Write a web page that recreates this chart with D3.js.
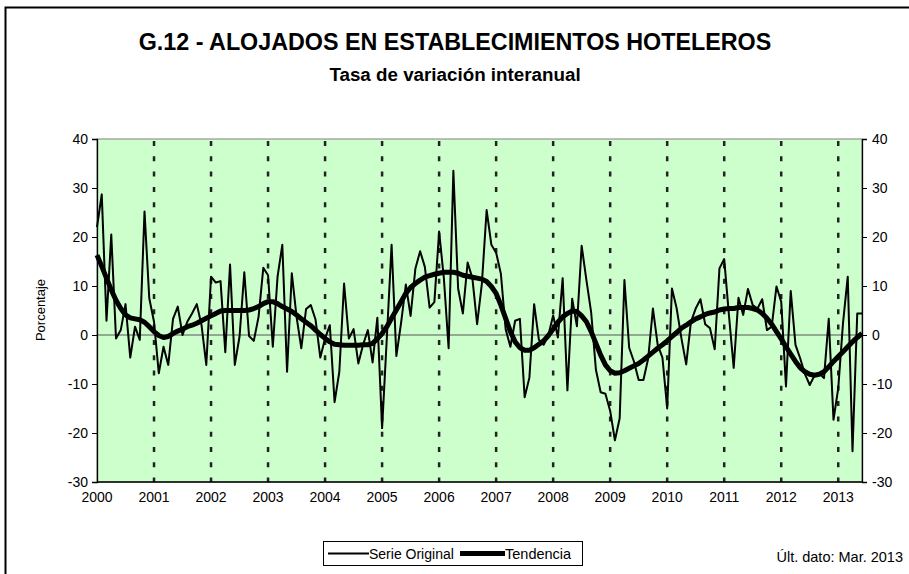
<!DOCTYPE html>
<html>
<head>
<meta charset="utf-8">
<script src="https://cdn.jsdelivr.net/npm/d3@7"></script>
<style>
  body { margin: 0; background: #fff; }
  svg { display: block; font-family: "Liberation Sans", Arial, sans-serif; }
</style>
</head>
<body>
<svg id="svg" width="909" height="574"></svg>
<script>
// meses desde ene-2000
const years = ["2000", "2001", "2002", "2003", "2004", "2005", "2006", "2007",
    "2008", "2009", "2010", "2011", "2012", "2013"]

const serieOriginal = [
    22, 28.7, 2.9, 20.5, -0.7, 1, 6.3, -4.6, 1.7, -1, 25.2, 7.5,
    2.7, -7.8, -2.4, -6.1, 3.3, 5.8, 0, 2.7, 4.4, 6.3, 2, -6.1,
    11.9, 10.7, 11, -3.5, 14.4, -6.1, -0.3, 12.8, -0.2, -1.2, 3.7, 13.7,
    12.2, -2.4, 11.9, 18.4, -7.5, 12.6, 3.7, -2.7, 5.3, 6.1, 3.1, -4.6,
    -0.7, 2, -13.7, -7.5, 10.5, -0.7, 1.2, -5.8, -2, 1, -5.6, 3.5,
    -19, -0.5, 18.4, -4.3, 2.5, 10.3, 3.9, 13.5, 17.1, 13.9, 5.6, 6.7,
    21.1, 11.6, -2.7, 33.5, 9.5, 4.4, 14.8, 11.6, 2.2, 10.5, 25.5, 18.4,
    16.8, 12.5, 1.2, -2.4, 2.9, 3.3, -12.7, -8.7, 6.3, -1, -2, 0,
    4, -0.5, 11.6, -11.3, 7.4, 1.8, 18.2, 11.2, 4.6, -7.1, -11.7, -12,
    -15.5, -21.5, -17, 11.2, -2.6, -5.4, -9.2, -9.2, -4.8, 5.4, -2, -4.6,
    -15, 9.5, 5.4, -0.7, -6, 2.7, 5.4, 7.3, 2.2, 1.4, -2.9, 13.6,
    15.5, 4, -6.7, 7.6, 4.1, 9.4, 6.1, 5.4, 7.3, 1, 1.7, 9.9,
    6.8, -10.5, 9, -2, -4.8, -8, -10.2, -8.3, -7.8, -8.8, 3.3, -17.3,
    -10.9, 2.4, 11.9, -23.7, 4.4, 4.4
]

const tendencia = [
    16.3, 14, 11.6, 9.2, 7.1, 5.4, 4.1, 3.5, 3.3, 3.1, 2.6, 1.7,
    0.7, -0.1, -0.5, -0.3, 0.3, 0.8, 1.2, 1.7, 2, 2.4, 2.9, 3.4,
    3.9, 4.4, 4.9, 5, 5, 5, 5, 5, 5.1, 5.4, 5.8, 6.4,
    6.8, 6.8, 6.4, 5.8, 5.3, 4.8, 4.1, 3.3, 2.6, 1.9, 1, 0.1,
    -0.7, -1.4, -1.9, -2, -2.1, -2.1, -2.1, -2.1, -2, -2, -1.7, -0.8,
    0.3, 1.7, 3.4, 5.1, 6.8, 8.5, 9.7, 10.5, 11.2, 11.8, 12.1, 12.4,
    12.6, 12.8, 12.8, 12.8, 12.6, 12.2, 12, 11.8, 11.6, 11.4, 10.9, 9.9,
    8.5, 6.1, 3.4, 0.7, -1.4, -2.6, -3.1, -3.1, -2.6, -1.9, -1.2, -0.1,
    1.2, 2.6, 3.7, 4.4, 4.9, 4.8, 3.9, 2.7, 0.7, -1.7, -4.1, -6.1,
    -7.3, -7.8, -7.7, -7.3, -6.8, -6.3, -5.8, -5.1, -4.3, -3.5, -2.7, -2,
    -1.2, -0.3, 0.5, 1.4, 2, 2.7, 3.3, 3.7, 4.2, 4.5, 4.7, 5.1,
    5.3, 5.4, 5.4, 5.6, 5.6, 5.6, 5.4, 5.1, 4.4, 3.4, 2.2, 0.7,
    -0.8, -2.4, -3.9, -5.4, -6.7, -7.5, -8, -8.2, -8, -7.5, -6.5, -5.4,
    -4.4, -3.4, -2.4, -1.4, -0.5, 0.3
]

const yTicks = [-30, -20, -10, 0, 10, 20, 30, 40]

window.addEventListener('load', function() {

    const svg = d3.select("#svg")
    const left = 97, right = 862, top = 139, bottom = 482

    x = d3.scaleLinear()
        .domain([0, serieOriginal.length - 1])
        .range([left, right])

    y = d3.scaleLinear()
        .domain([-30, 40])
        .range([bottom, top])

    // marco exterior (lado derecho y abajo fuera de la imagen)
    svg.append("rect")
        .attr("x", 5.5).attr("y", 7.5)
        .attr("width", 920).attr("height", 600)
        .attr("fill", "none").attr("stroke", "#000").attr("stroke-width", 2)

    svg.append("text")
        .attr("x", 455).attr("y", 50)
        .attr("text-anchor", "middle")
        .attr("font-size", 23.3).attr("font-weight", "bold")
        .text("G.12 - ALOJADOS EN ESTABLECIMIENTOS HOTELEROS")

    svg.append("text")
        .attr("x", 455).attr("y", 81)
        .attr("text-anchor", "middle")
        .attr("font-size", 18.8).attr("font-weight", "bold")
        .text("Tasa de variación interanual")

    svg.append("rect")
        .attr("x", left).attr("y", top)
        .attr("width", right - left).attr("height", bottom - top)
        .attr("fill", "#ccffcc").attr("stroke", "#808080")

    // lineas de año
    svg.selectAll(".grid")
        .data(years.slice(1))
        .enter()
        .append("line")
        .attr("x1", (d, i) => x((i + 1) * 12))
        .attr("x2", (d, i) => x((i + 1) * 12))
        .attr("y1", top + 2).attr("y2", bottom)
        .attr("stroke", "#222").attr("stroke-width", 2.5)
        .attr("stroke-dasharray", "5,10.3")

    svg.append("line")
        .attr("x1", left).attr("x2", right)
        .attr("y1", y(0)).attr("y2", y(0))
        .attr("stroke", "#555").attr("stroke-width", 1)

    const fmt = d => String(d)
    svg.append("g")
        .attr("transform", `translate(${left},0)`)
        .call(d3.axisLeft(y).tickValues(yTicks).tickFormat(fmt).tickSize(5).tickPadding(4))
    svg.append("g")
        .attr("transform", `translate(${right},0)`)
        .call(d3.axisRight(y).tickValues(yTicks).tickFormat(fmt).tickSize(5).tickPadding(5))
    svg.selectAll(".tick text").attr("font-size", 14).attr("font-family", "Liberation Sans, Arial, sans-serif").attr("fill", "#000")
    svg.selectAll(".domain").attr("stroke-width", 1.3)

    svg.append("line")
        .attr("x1", left).attr("x2", right)
        .attr("y1", bottom).attr("y2", bottom)
        .attr("stroke", "#000").attr("stroke-width", 1.3)

    svg.selectAll(".year")
        .data(years)
        .enter()
        .append("text")
        .attr("x", (d, i) => x(i * 12))
        .attr("y", 502)
        .attr("text-anchor", "middle")
        .attr("font-size", 14)
        .text(d => d)

    svg.append("text")
        .attr("transform", "translate(45,310) rotate(-90)")
        .attr("text-anchor", "middle")
        .attr("font-size", 13)
        .text("Porcentaje")

    const line = d3.line()
        .x((d, i) => x(i))
        .y(d => y(d))

    svg.append("path")
        .attr("d", line(serieOriginal))
        .attr("fill", "none").attr("stroke", "#000").attr("stroke-width", 2)
        .attr("stroke-linejoin", "round")

    svg.append("path")
        .attr("d", line(tendencia))
        .attr("fill", "none").attr("stroke", "#000").attr("stroke-width", 5)
        .attr("stroke-linejoin", "round")

    // leyenda
    const lg = svg.append("g")
    lg.append("rect")
        .attr("x", 323.5).attr("y", 541.5)
        .attr("width", 259).attr("height", 24)
        .attr("fill", "#fff").attr("stroke", "#000")
    lg.append("line")
        .attr("x1", 328).attr("x2", 369).attr("y1", 553.5).attr("y2", 553.5)
        .attr("stroke", "#000").attr("stroke-width", 2)
    lg.append("text")
        .attr("x", 369).attr("y", 558.5).attr("font-size", 14)
        .text("Serie Original")
    lg.append("line")
        .attr("x1", 460).attr("x2", 505).attr("y1", 553.5).attr("y2", 553.5)
        .attr("stroke", "#000").attr("stroke-width", 5)
    lg.append("text")
        .attr("x", 505).attr("y", 558.5).attr("font-size", 14.5)
        .text("Tendencia")

    svg.append("text")
        .attr("x", 903).attr("y", 562)
        .attr("text-anchor", "end")
        .attr("font-size", 14.5)
        .text("Últ. dato: Mar. 2013")
})
</script>
</body>
</html>
